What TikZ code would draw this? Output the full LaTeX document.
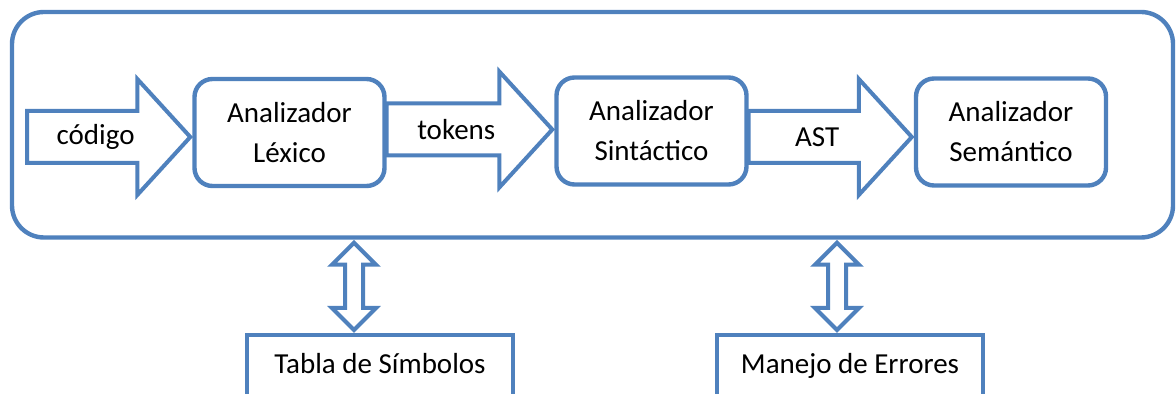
\documentclass[tikz,border=0pt]{standalone}
\usepackage{fontspec}
\setmainfont{Carlito}
\definecolor{frameblue}{HTML}{4F81BD}
\usetikzlibrary{calc}
\tikzset{
  stage/.style  = {draw=frameblue,line width=2.2pt,rounded corners=9pt,fill=white,
                   minimum width=95pt,minimum height=53.5pt,inner sep=0pt,align=center},
  pipe/.style   = {draw=frameblue,line width=2.2pt,rounded corners=16pt,
                   minimum width=580.5pt,minimum height=112.75pt,inner sep=0pt},
  aux/.style    = {draw=frameblue,line width=2.2pt,minimum width=133pt,minimum height=35pt,
                   anchor=north,text height=9.75pt,text depth=6.5pt},
  barrow/.style = {draw=frameblue,line width=2pt,fill=white,line join=miter},
  alabel/.style = {inner sep=0pt},
}
% wide block arrow: start, tip, label
\newcommand{\blockarrow}[3]{%
  \draw[barrow] ($(#1)+(0,-26)$) -- ($(#2)+(-53,-26)$) -- ($(#2)+(-53,-58)$) -- (#2)
     -- ($(#2)+(-53,58)$) -- ($(#2)+(-53,26)$) -- ($(#1)+(0,26)$) -- cycle;
  \node[alabel] at ($(#1)!0.42!(#2)$) {#3};}
% vertical double arrow: top tip, bottom tip
\newcommand{\updown}[2]{%
  \draw[barrow] (#1) -- ($(#1)+(22,22)$) -- ($(#1)+(9,22)$) -- ($(#2)+(9,-22)$)
     -- ($(#2)+(22,-22)$) -- (#2) -- ($(#2)+(-22,-22)$) -- ($(#2)+(-9,-22)$)
     -- ($(#1)+(-9,22)$) -- ($(#1)+(-22,22)$) -- cycle;}

\begin{document}
\begin{tikzpicture}[x=0.5pt,y=-0.5pt,font=\fontsize{14.5}{20}\selectfont]
  \useasboundingbox (0,0) rectangle (1176,394);
  \node[pipe] (pipe) at (592.5,124.75) {};

  \node[stage] (lex) at (289.5,132.5) {Analizador\\Léxico};
  \node[stage] (sin) at (651.5,131) {Analizador\\Sintáctico};
  \node[stage] (sem) at (1011,132) {Analizador\\Semántico};

  % arrows between the phases
  \coordinate (in) at (27,137);
  \coordinate (t1) at ($(lex.west)+(-2,4.5)$);
  \coordinate (s2) at ($(lex.east)+(0,-3)$);
  \coordinate (t2) at ($(sin.west)+(-2,-1.5)$);
  \coordinate (s3) at ($(sin.east)+(0,6)$);
  \coordinate (t3) at ($(sem.west)+(-2,5)$);
  \blockarrow{in}{t1}{código}
  \blockarrow{s2}{t2}{tokens}
  \blockarrow{s3}{t3}{AST}

  % shared modules below
  \node[aux] (tabla) at (380,333) {Tabla de Símbolos};
  \node[aux] (err) at (850,333) {Manejo de Errores};
  \coordinate (b1) at ($(tabla.north)+(-26,-3)$);
  \coordinate (a1) at ($(pipe.south -| b1)+(0,3)$);
  \coordinate (b2) at ($(err.north)+(-13,-3)$);
  \coordinate (a2) at ($(pipe.south -| b2)+(0,3)$);
  \updown{a1}{b1}
  \updown{a2}{b2}
\end{tikzpicture}
\end{document}
